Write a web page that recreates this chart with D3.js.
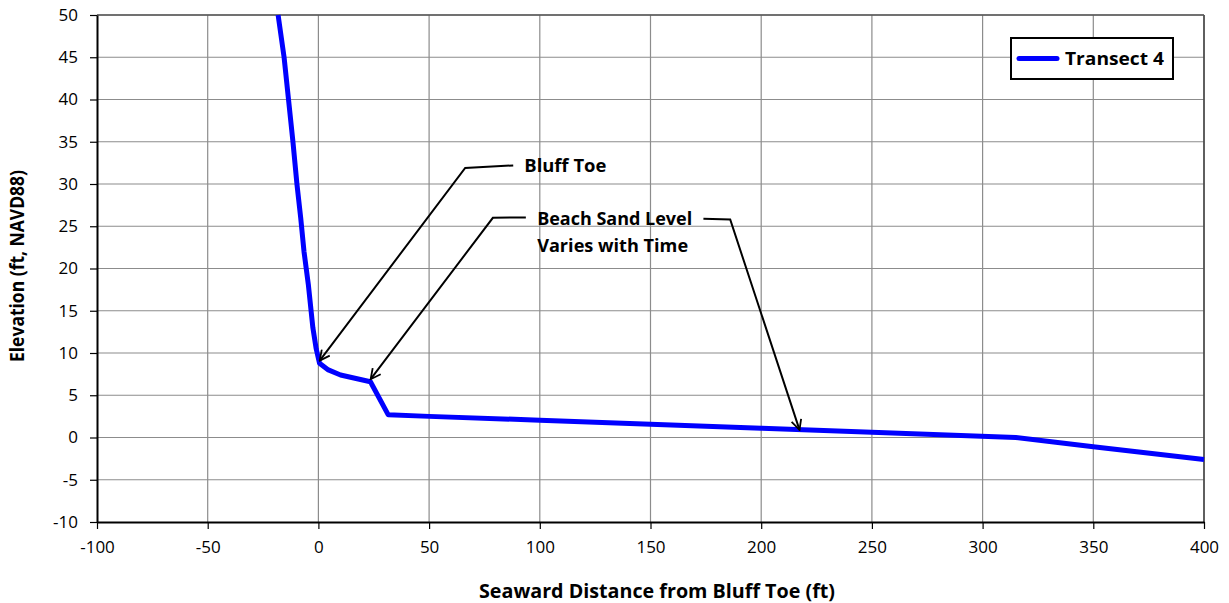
<!DOCTYPE html>
<html>
<head>
<meta charset="utf-8">
<script src="https://cdn.jsdelivr.net/npm/d3@7"></script>
<style>
  body { margin: 0; background: #fff; }
  text { font-family: "Open Sans", "Liberation Sans", sans-serif; fill: #000; }
</style>
</head>
<body>
<div id="chart"></div>
<script>
// profile of transect 4 (distance ft, elevation ft NAVD88)
var distance = [-18.2, -15.5, -13.5, -11.5, -9.7, -8, -6.5, -4.5, -2.5, -1, 0.5, 4.5, 10, 23.5, 31.5, 50, 100, 200, 315, 350, 400];
var elevation = [50, 45, 40, 35, 30, 26, 22, 18, 13, 10.5, 8.8, 8.0, 7.4, 6.6, 2.7, 2.5, 2.05, 1.1, 0, -1.1, -2.6];

var xTicks = [-100, -50, 0, 50, 100, 150, 200, 250, 300, 350, 400];
var yTicks = [-10, -5, 0, 5, 10, 15, 20, 25, 30, 35, 40, 45, 50];

// callouts: leader line points in data units
var bluffToeLeader = [[88, 32.2], [66.3, 31.9], [0.6, 9.1]];
var beachLeaderLeft = [[93.7, 26.05], [78.8, 26.0], [23.6, 6.9]];
var beachLeaderRight = [[173.9, 25.9], [186, 25.8], [217.3, 0.9]];

var margin = {top: 15, right: 25, bottom: 81, left: 97},
  width = 1229 - margin.left - margin.right,
  height = 603 - margin.top - margin.bottom;

var root = d3.select("#chart")
  .append("svg")
  .attr("width", 1229)
  .attr("height", 603);

var defs = root.append("defs");
defs.append("marker")
  .attr("id", "arrow")
  .attr("viewBox", "0 0 12 12")
  .attr("refX", 11)
  .attr("refY", 6)
  .attr("markerWidth", 12)
  .attr("markerHeight", 12)
  .attr("markerUnits", "userSpaceOnUse")
  .attr("orient", "auto")
  .append("path")
  .attr("d", "M1,1 L11,6 L1,11")
  .attr("fill", "none")
  .attr("stroke", "#000")
  .attr("stroke-width", 1.8);

var svg = root.append("g")
  .attr("transform", "translate(" + margin.left + "," + margin.top + ")");

var x = d3.scaleLinear().domain([-100, 400]).range([0, width]);
var y = d3.scaleLinear().domain([-10, 50]).range([height, 0]);

// grid
svg.append("g")
  .selectAll("line")
  .data(xTicks.slice(1))
  .enter().append("line")
  .attr("x1", d => x(d)).attr("x2", d => x(d))
  .attr("y1", 0).attr("y2", height)
  .attr("stroke", "#8c8c8c")
  .attr("stroke-width", 1.2);

svg.append("g")
  .selectAll("line")
  .data(yTicks.slice(1))
  .enter().append("line")
  .attr("x1", 0).attr("x2", width)
  .attr("y1", d => y(d)).attr("y2", d => y(d))
  .attr("stroke", "#8c8c8c")
  .attr("stroke-width", 1.2);

// plot border
svg.append("line")
  .attr("x1", width).attr("x2", width)
  .attr("y1", 0).attr("y2", height)
  .attr("stroke", "#404040")
  .attr("stroke-width", 1.5);
svg.append("line")
  .attr("x1", 0).attr("x2", width)
  .attr("y1", 0).attr("y2", 0)
  .attr("stroke", "#555")
  .attr("stroke-width", 1.3);

// axes
var fmt = function(d) { return String(d); };
var xAxis = svg.append("g")
  .attr("transform", "translate(0," + height + ")")
  .call(d3.axisBottom(x).tickValues(xTicks).tickFormat(fmt).tickSize(7).tickPadding(12).tickSizeOuter(0));
var yAxis = svg.append("g")
  .call(d3.axisLeft(y).tickValues(yTicks).tickFormat(fmt).tickSize(7).tickPadding(12).tickSizeOuter(0));

[xAxis, yAxis].forEach(function(a) {
  a.select(".domain").attr("stroke", "#000").attr("stroke-width", 2);
  a.selectAll(".tick line").attr("stroke", "#000").attr("stroke-width", 1.2);
  a.selectAll(".tick text")
    .style("font-family", '"Open Sans", sans-serif')
    .style("font-size", "17px")
    .attr("fill", "#000");
});

// profile line
var line = d3.line()
  .x(function(d, i) { return x(distance[i]); })
  .y(function(d, i) { return y(elevation[i]); });

svg.append("path")
  .datum(distance)
  .attr("d", line)
  .attr("fill", "none")
  .attr("stroke", "#0000ff")
  .attr("stroke-width", 5)
  .attr("stroke-linejoin", "round");

// callouts
var leader = d3.line()
  .x(d => x(d[0]))
  .y(d => y(d[1]));

[bluffToeLeader, beachLeaderLeft, beachLeaderRight].forEach(function(pts) {
  svg.append("path")
    .attr("d", leader(pts))
    .attr("fill", "none")
    .attr("stroke", "#000")
    .attr("stroke-width", 2)
    .attr("marker-end", "url(#arrow)");
});

svg.append("text")
  .attr("x", x(93)).attr("y", y(32.2))
  .attr("dy", "0.35em")
  .attr("font-weight", "bold")
  .attr("font-size", 18)
  .attr("textLength", 82)
  .attr("lengthAdjust", "spacingAndGlyphs")
  .text("Bluff Toe");

svg.append("text")
  .attr("x", x(98.8)).attr("y", y(25.9))
  .attr("dy", "0.35em")
  .attr("font-weight", "bold")
  .attr("font-size", 18)
  .attr("textLength", 155)
  .attr("lengthAdjust", "spacingAndGlyphs")
  .text("Beach Sand Level");

svg.append("text")
  .attr("x", x(98.8)).attr("y", y(22.7))
  .attr("dy", "0.35em")
  .attr("font-weight", "bold")
  .attr("font-size", 18)
  .attr("textLength", 151)
  .attr("lengthAdjust", "spacingAndGlyphs")
  .text("Varies with Time");

// legend
var legend = svg.append("g")
  .attr("transform", "translate(" + (width - 193) + ",23)");
legend.append("rect")
  .attr("width", 162).attr("height", 41)
  .attr("fill", "#fff")
  .attr("stroke", "#000")
  .attr("stroke-width", 2);
legend.append("line")
  .attr("x1", 8).attr("x2", 46)
  .attr("y1", 20.5).attr("y2", 20.5)
  .attr("stroke", "#0000ff")
  .attr("stroke-width", 5)
  .attr("stroke-linecap", "round");
legend.append("text")
  .attr("x", 54).attr("y", 20.5)
  .attr("dy", "0.35em")
  .attr("font-weight", "bold")
  .attr("font-size", 18)
  .attr("textLength", 99)
  .attr("lengthAdjust", "spacingAndGlyphs")
  .text("Transect 4");

// axis titles
root.append("text")
  .attr("x", 657).attr("y", 591)
  .attr("dy", "0.35em")
  .attr("text-anchor", "middle")
  .attr("font-weight", "bold")
  .attr("font-size", 19)
  .attr("textLength", 356)
  .attr("lengthAdjust", "spacingAndGlyphs")
  .text("Seaward Distance from Bluff Toe (ft)");

root.append("text")
  .attr("transform", "translate(17,266) rotate(-90)")
  .attr("dy", "0.35em")
  .attr("text-anchor", "middle")
  .attr("font-weight", "bold")
  .attr("font-size", 19)
  .attr("textLength", 192)
  .attr("lengthAdjust", "spacingAndGlyphs")
  .text("Elevation (ft, NAVD88)");
</script>
</body>
</html>
